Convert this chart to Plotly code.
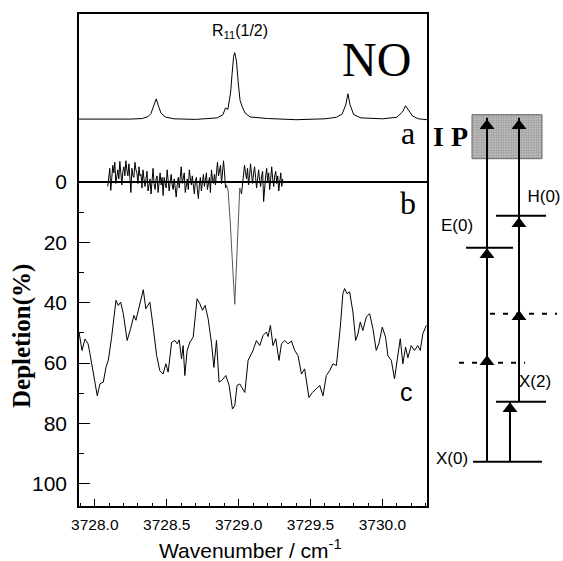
import plotly.graph_objects as go

# ---------------- data ----------------
# trace a: REMPI spectrum (plotted with an offset above trace b)
a_wn = [3727.89, 3728.10, 3728.25, 3728.33, 3728.37, 3728.39, 3728.41, 3728.427, 3728.44, 3728.46,
        3728.49, 3728.55, 3728.70, 3728.85, 3728.89, 3728.909, 3728.925, 3728.944, 3728.955, 3728.965,
        3728.973, 3728.985, 3728.997, 3729.010, 3729.024, 3729.045, 3729.08, 3729.20, 3729.40, 3729.60,
        3729.68, 3729.72, 3729.745, 3729.760, 3729.775, 3729.80, 3729.85, 3730.00, 3730.10, 3730.14,
        3730.161, 3730.18, 3730.21, 3730.25, 3730.31]
a_val = [-20.8, -20.7, -20.8, -21.0, -21.6, -22.6, -25.0, -27.5, -25.5, -22.8,
         -21.5, -20.9, -20.7, -21.2, -22.2, -24.5, -24.0, -29.5, -36.0, -41.5,
         -42.8, -40.0, -33.0, -27.0, -25.0, -22.8, -21.5, -21.0, -20.6, -20.9,
         -21.4, -22.5, -25.5, -29.2, -25.5, -22.3, -21.2, -20.9, -21.4, -23.2,
         -25.2, -23.8, -21.8, -20.9, -20.6]

# trace b: depletion (noise part 1, dip, noise part 2)
b1_start, b1_step = 3728.09, 0.007
b1_val = [1.5, -2.0, -4.5, 2.8, -1.0, -5.5, -3.0, -6.5, 0.5, -2.5, -4.0, -1.0, -6.8, -3.0, 1.0, -3.5,
          -5.0, -2.0, -7.0, -4.0, -2.0, -6.0, -1.0, 3.5, -4.5, -2.0, -1.5, -6.5, -4.0, -3.0, 0.5, -5.0,
          -2.0, -2.5, 2.0, -4.0, -1.0,
          1.5, -1.0, -3.5, 3.0, 0.5, -1.0, 4.0, -2.0, -4.5, 0.5, 2.5, -1.0, -2.0, 3.5, 1.0, -3.0, 1.0,
          -1.5, 4.5, -1.5, 0.5, 2.0, -4.0, -1.0, 3.0, 0.0, -2.5, 1.0, 2.5, -1.0,
          3.0, 5.0, 1.0, -1.5, 2.0, -2.0, -5.0, 0.5, -1.0, -3.0, 3.5, 0.5, -1.0, 2.5, -4.0, -1.5, 1.0,
          -2.0, 1.5, 4.0, 0.0, -1.5, 2.5, 5.5, 1.0, -1.5, 3.0, -0.5, -2.5,
          1.5, -1.0, -3.0, 2.5, 0.0, -1.5, 3.5, -4.0, -1.0, 0.5, -2.5, 1.0, -3.0, -6.5, -2.0, -4.5,
          -5.5, 0.5, -3.0, -7.0, -3.0, 2.0, 1.0]
b_dip_wn = [3728.916, 3728.927, 3728.94, 3728.955, 3728.965, 3728.973, 3728.98, 3728.99, 3729.0, 3729.008, 3729.02]
b_dip_val = [1.0, 3.0, 12.0, 25.0, 36.0, 40.5, 33.0, 22.0, 12.0, 2.0, 4.0]
b2_start, b2_step = 3729.02, 0.007
b2_val = [4.0, 1.0, -2.0, -5.5, -3.0, -1.0, -4.5, 1.0, -2.0, -6.0, -2.5, 0.5, -3.0, -5.0, -1.5,
          2.0, -1.0, -4.0, -0.5, 1.5, -2.0, -3.5, 6.5, 1.0, -2.0, -4.5, 0.0, -3.0, 2.5, -1.0,
          -5.0, -1.0, 1.5, -2.0, -3.5, 0.5, -2.0, 3.0, -1.0, -3.0, 1.5, -1.0]

# trace c: depletion offset trace
c_wn = [3727.890, 3727.911, 3727.932, 3727.953, 3727.966, 3727.988, 3728.017, 3728.036, 3728.059, 3728.078,
        3728.094, 3728.117, 3728.147, 3728.163, 3728.180, 3728.198, 3728.225, 3728.249, 3728.272, 3728.286,
        3728.309, 3728.337, 3728.355, 3728.383, 3728.406, 3728.430, 3728.452, 3728.475, 3728.494, 3728.510,
        3728.534, 3728.557, 3728.573, 3728.587, 3728.603, 3728.614, 3728.626, 3728.642, 3728.661, 3728.684,
        3728.711, 3728.730, 3728.749, 3728.767, 3728.788, 3728.812, 3728.828, 3728.846, 3728.864, 3728.881,
        3728.911, 3728.934, 3728.957, 3728.973, 3728.989, 3729.008, 3729.043, 3729.066, 3729.100, 3729.124,
        3729.147, 3729.170, 3729.193, 3729.205, 3729.221, 3729.239, 3729.258, 3729.281, 3729.298, 3729.321,
        3729.343, 3729.367, 3729.390, 3729.413, 3729.437, 3729.459, 3729.489, 3729.513, 3729.541, 3729.564,
        3729.587, 3729.610, 3729.633, 3729.656, 3729.680, 3729.707, 3729.725, 3729.737, 3729.753, 3729.772,
        3729.795, 3729.814, 3729.830, 3729.846, 3729.864, 3729.888, 3729.911, 3729.934, 3729.957, 3729.975,
        3729.999, 3730.022, 3730.038, 3730.062, 3730.084, 3730.100, 3730.124, 3730.142, 3730.161, 3730.177,
        3730.200, 3730.223, 3730.246, 3730.263, 3730.281, 3730.305]
c_val = [49.7, 55.8, 52.0, 53.6, 56.8, 63.5, 70.8, 66.8, 66.3, 61.3,
         59.0, 51.4, 39.2, 40.9, 39.8, 43.6, 52.5, 48.6, 44.2, 45.8,
         40.9, 35.7, 42.0, 39.8, 48.1, 57.5, 62.5, 63.6, 60.2, 63.0,
         53.1, 52.5, 53.6, 52.3, 58.6, 54.2, 64.1, 55.8, 53.1, 51.4,
         38.7, 40.3, 42.5, 40.9, 45.3, 53.6, 61.4, 52.5, 66.3, 65.8,
         64.1, 67.4, 75.2, 74.1, 67.4, 66.9, 69.7, 59.1, 55.8, 52.5,
         54.2, 50.8, 49.7, 51.2, 47.5, 54.2, 51.9, 59.1, 53.6, 52.5,
         53.6, 52.7, 55.8, 57.5, 63.6, 61.9, 71.4, 69.7, 68.5, 67.4,
         70.8, 64.1, 62.5, 60.2, 60.8, 48.1, 37.0, 35.3, 37.0, 36.4,
         43.1, 52.5, 50.3, 46.4, 49.2, 44.7, 43.6, 48.6, 55.8, 53.6,
         48.1, 51.4, 57.5, 59.1, 65.2, 59.1, 51.9, 60.2, 54.7, 58.2,
         54.2, 55.8, 54.2, 55.8, 50.3, 47.5]

x_ticks = [3728.0, 3728.5, 3729.0, 3729.5, 3730.0]
y_ticks = [0, 20, 40, 60, 80, 100]
y_minor = [10, 30, 50, 70, 90]

# energy level scheme (arbitrary energy units)
level_names = ["X(0)", "X(2)", "E(0)", "H(0)"]
level_E = [0, 60, 214, 246]
level_x0 = [43, 66, 36, 66]
level_x1 = [112, 116, 83, 116]
virtual_E = [99, 148]
virtual_x0 = [29, 60]
virtual_x1 = [95, 127]
ip_E = [303, 347]
ip_x = [42, 112]
paths_x = [57, 89, 80]
paths_E0 = [0, 60, 0]
paths_E1 = [344, 344, 60]
heads_x = [57, 57, 57, 89, 89, 89, 80]
heads_E = [100, 207, 336, 145, 238, 336, 53]
label_x = [22, 105, 27, 114]
label_E = [2, 79, 235, 264]

# ---------------- figure ----------------
FS = "Liberation Sans"
FSER = "Liberation Serif"
fig = go.Figure()

b1_wn = [b1_start + i * b1_step for i in range(len(b1_val))]
b2_wn = [b2_start + i * b2_step for i in range(len(b2_val))]

fig.add_trace(go.Scatter(x=a_wn, y=a_val, mode="lines", line=dict(color="black", width=1)))
fig.add_trace(go.Scatter(x=b1_wn, y=b1_val, mode="lines", line=dict(color="black", width=1)))
fig.add_trace(go.Scatter(x=b_dip_wn, y=b_dip_val, mode="lines", line=dict(color="#555555", width=1)))
fig.add_trace(go.Scatter(x=b2_wn, y=b2_val, mode="lines", line=dict(color="black", width=1)))
fig.add_trace(go.Scatter(x=c_wn, y=c_val, mode="lines", line=dict(color="black", width=1)))

# IP box
fig.add_trace(go.Bar(x=[(ip_x[0] + ip_x[1]) / 2], y=[ip_E[1] - ip_E[0]], base=[ip_E[0]],
                     width=[ip_x[1] - ip_x[0]], xaxis="x2", yaxis="y2",
                     marker=dict(color="#b5b5b5", line=dict(color="#666666", width=1),
                                 pattern=dict(shape=".", fgcolor="#6a6a6a", bgcolor="#c2c2c2",
                                              size=2.5, solidity=0.45))))
for e, x0, x1 in zip(level_E, level_x0, level_x1):
    fig.add_trace(go.Scatter(x=[x0, x1], y=[e, e], mode="lines", xaxis="x2", yaxis="y2",
                             line=dict(color="black", width=2)))
for e, x0, x1 in zip(virtual_E, virtual_x0, virtual_x1):
    fig.add_trace(go.Scatter(x=[x0, x1], y=[e, e], mode="lines", xaxis="x2", yaxis="y2",
                             line=dict(color="black", width=2, dash="5px,8px")))
for x, e0, e1 in zip(paths_x, paths_E0, paths_E1):
    fig.add_trace(go.Scatter(x=[x, x], y=[e0, e1], mode="lines", xaxis="x2", yaxis="y2",
                             line=dict(color="black", width=2)))
fig.add_trace(go.Scatter(x=heads_x, y=heads_E, mode="markers", xaxis="x2", yaxis="y2",
                         marker=dict(symbol="triangle-up", size=13, color="black",
                                     line=dict(width=0))))
fig.add_trace(go.Scatter(x=label_x, y=label_E, mode="text", text=level_names, xaxis="x2", yaxis="y2",
                         textfont=dict(family=FS, size=17, color="black")))

W, H = 563, 561
ml, mr, mt, mb = 79, 3, 14, 55
pw = W - ml - mr
ph = H - mt - mb
main_right = (427 - ml) / pw

fig.update_layout(
    width=W, height=H, margin=dict(l=ml, r=mr, t=mt, b=mb),
    paper_bgcolor="white", plot_bgcolor="white", showlegend=False,
    xaxis=dict(domain=[0, main_right], range=[3727.89, 3730.31],
               tickvals=x_ticks, ticktext=[f"{v:.1f}" for v in x_ticks],
               ticks="inside", ticklen=7, tickwidth=1, tickcolor="black",
               minor=dict(dtick=0.1, tick0=3728.0, ticks="inside", ticklen=3.5, tickcolor="black"),
               showgrid=False, zeroline=False, showline=True, linecolor="black", linewidth=1.5,
               mirror=True, tickfont=dict(family=FS, size=15.5, color="black"),
               ticklabelstandoff=4),
    yaxis=dict(range=[107.3, -55.6], tickvals=y_ticks, ticks="inside", ticklen=11,
               tickcolor="black", tickwidth=1,
               minor=dict(tickvals=y_minor, ticks="inside", ticklen=5, tickcolor="black"),
               showgrid=False, zeroline=True, zerolinecolor="black", zerolinewidth=1.5,
               showline=True, linecolor="black", linewidth=1.5, mirror=True,
               tickfont=dict(family=FS, size=21, color="black"), ticklabelstandoff=6),
    xaxis2=dict(domain=[(430 - ml) / pw, 1], range=[0, 130], visible=False, anchor="y2"),
    yaxis2=dict(domain=[0, 1], range=[-44.3, 447.7], visible=False, anchor="x2"),
)

ann = [
    dict(text="R<sub>11</sub>(1/2)", x=3729.008, y=-49.7, xref="x", yref="y", showarrow=False,
         font=dict(family=FS, size=16, color="black")),
    dict(text="NO", x=3729.96, y=-40.4, xref="x", yref="y", showarrow=False,
         font=dict(family=FSER, size=48, color="black")),
    dict(text="a", x=3730.175, y=-16.2, xref="x", yref="y", showarrow=False,
         font=dict(family=FSER, size=32, color="black")),
    dict(text="b", x=3730.175, y=7.0, xref="x", yref="y", showarrow=False,
         font=dict(family=FSER, size=32, color="black")),
    dict(text="c", x=3730.166, y=69.5, xref="x", yref="y", showarrow=False,
         font=dict(family=FS, size=25, color="black")),
    dict(text="<b>Depletion(%)</b>", x=(22 - ml) / pw, y=(H - mb - 336) / ph, xref="paper", yref="paper",
         xanchor="center", yanchor="middle",
         showarrow=False, textangle=-90, font=dict(family=FSER, size=25, color="black")),
    dict(text="Wavenumber / cm<sup>-1</sup>", x=(250 - ml) / pw, y=(H - mb - 549) / ph,
         xref="paper", yref="paper", xanchor="center", yanchor="middle",
         showarrow=False, font=dict(family=FS, size=21, color="black")),
    dict(text="<b>I P</b>", x=20, y=325, xref="x2", yref="y2", showarrow=False,
         font=dict(family=FSER, size=28, color="black")),
]
fig.update_layout(annotations=ann)

fig.write_html("out.html")
